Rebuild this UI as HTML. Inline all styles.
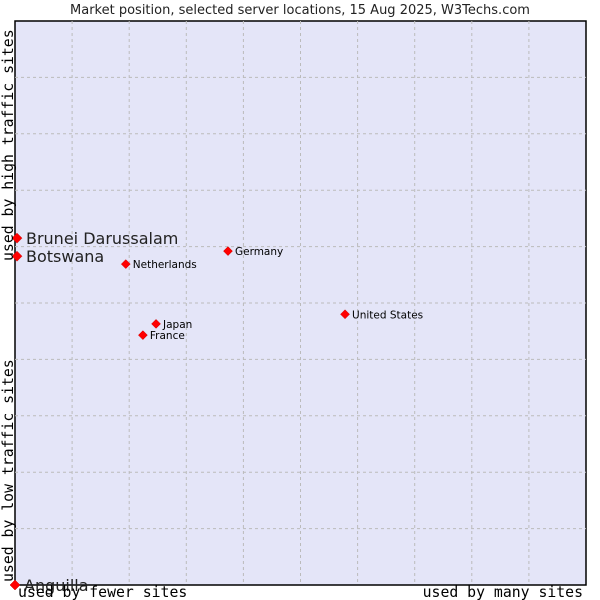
<!DOCTYPE html>
<html><head><meta charset="utf-8"><style>
html,body{margin:0;padding:0;background:#fff;width:600px;height:600px;overflow:hidden}
svg{display:block;font-family:"DejaVu Sans","Liberation Sans",sans-serif}
</style></head><body>
<svg id="chart" width="600" height="600">
<text x="300" y="14" font-size="13" text-anchor="middle" fill="#222">Market position, selected server locations, 15 Aug 2025, W3Techs.com</text>
<rect x="15" y="21" width="571" height="564" fill="#e4e5f8" stroke="#000" stroke-width="1.5"/>
<g id="grid"></g>
<g id="points"></g>
<text x="18" y="597" font-family="DejaVu Sans Mono,Liberation Mono,monospace" font-size="14.8" fill="#000">used by fewer sites</text>
<text x="583" y="597" font-family="DejaVu Sans Mono,Liberation Mono,monospace" font-size="14.8" text-anchor="end" fill="#000">used by many sites</text>
<text transform="translate(13,582) rotate(-90)" font-family="DejaVu Sans Mono,Liberation Mono,monospace" font-size="14.8" fill="#000">used by low traffic sites</text>
<text transform="translate(13,261) rotate(-90)" font-family="DejaVu Sans Mono,Liberation Mono,monospace" font-size="14.8" fill="#000">used by high traffic sites</text>
</svg>
<script>
const names = ["Brunei Darussalam","Botswana","Netherlands","Germany","United States","Japan","France","Anguilla"];
const xValues = [0.35,0.35,19.4,37.3,57.8,24.7,22.4,0];
const yValues = [61.5,58.3,56.9,59.2,48.0,46.3,44.3,0];
const bigLabel = [true,true,false,false,false,false,false,true];
const X0=15,X1=586,Y0=585,Y1=21;
const sx=v=>X0+v/100*(X1-X0);
const sy=v=>Y0-v/100*(Y0-Y1);
const NS="http://www.w3.org/2000/svg";
const grid=document.getElementById('grid');
for(let i=1;i<10;i++){
  const v=document.createElementNS(NS,'line');
  v.setAttribute('x1',sx(i*10));v.setAttribute('x2',sx(i*10));v.setAttribute('y1',Y1);v.setAttribute('y2',Y0);
  v.setAttribute('stroke','#bbb');v.setAttribute('stroke-dasharray','3,3');
  
  
  grid.appendChild(v);
  const h=document.createElementNS(NS,'line');
  h.setAttribute('y1',sy(i*10));h.setAttribute('y2',sy(i*10));h.setAttribute('x1',X0);h.setAttribute('x2',X1);
  h.setAttribute('stroke','#bbb');h.setAttribute('stroke-dasharray','3,3');
  
  
  grid.appendChild(h);
}
const pts=document.getElementById('points');
names.forEach((n,i)=>{
  const x=sx(xValues[i]),y=sy(yValues[i]);
  const d=document.createElementNS(NS,'path');
  const r=bigLabel[i]?5:4.5;
  d.setAttribute('d',`M${x-r},${y}L${x},${y-r}L${x+r},${y}L${x},${y+r}Z`);
  d.setAttribute('fill','#f00');d.setAttribute('stroke','#c00');d.setAttribute('stroke-width','0.5');
  
  
  pts.appendChild(d);
  const t=document.createElementNS(NS,'text');
  t.textContent=n;
  t.setAttribute('x',x+(bigLabel[i]?9:7));
  t.setAttribute('y',y+(bigLabel[i]?6:4));
  t.setAttribute('font-size',bigLabel[i]?'16':'10.5');
  t.setAttribute('fill',bigLabel[i]?'#222':'#000');
  
  
  pts.appendChild(t);
});
</script>
</body></html>
